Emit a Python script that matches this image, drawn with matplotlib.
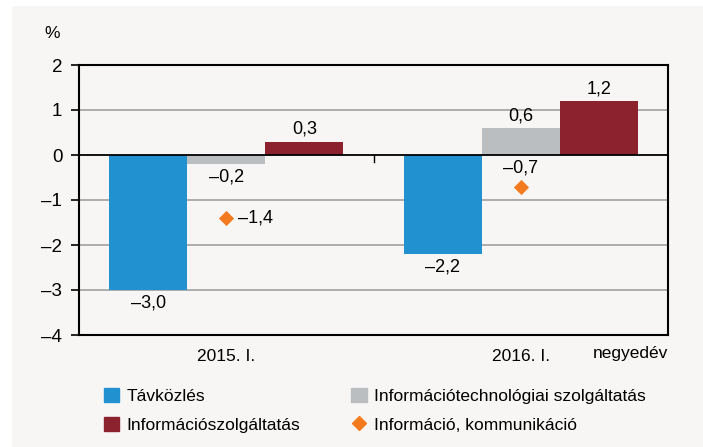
import matplotlib.pyplot as plt
import matplotlib.patches as mpatches
from matplotlib.lines import Line2D
import numpy as np

quarters = ['2015. I.', '2016. I.']
tavkozles = [-3.0, -2.2]
infotech = [-0.2, 0.6]
infoszolg = [0.3, 1.2]
info_komm = [-1.4, -0.7]
series_names = ['Távközlés', 'Információtechnológiai szolgáltatás',
                'Információszolgáltatás', 'Információ, kommunikáció']
yticks = [-4, -3, -2, -1, 0, 1, 2]

blue = '#2291cf'
grey = '#bbbec1'
red = '#8b222e'
orange = '#f47a20'
bg = '#f7f6f4'

plt.rcParams['font.family'] = ['Liberation Sans', 'DejaVu Sans']
plt.rcParams['font.size'] = 12


def fmt(v):
    s = ('%.1f' % abs(v)).replace('.', ',')
    return ('–' + s) if v < 0 else s


fig = plt.figure(figsize=(7.03, 4.47), dpi=100, facecolor='white')
fig.patches.append(mpatches.Rectangle((12 / 703, 0), 1, 1 - 6 / 447,
                                      transform=fig.transFigure,
                                      facecolor=bg, edgecolor='none', zorder=-10))
ax = fig.add_axes([79 / 703, 1 - 335 / 447, 589 / 703, 270 / 447])
ax.set_facecolor(bg)

x = np.arange(len(quarters))
w = 0.265
ax.bar(x - w, tavkozles, w, color=blue, zorder=3)
ax.bar(x, infotech, w, color=grey, zorder=3)
ax.bar(x + w, infoszolg, w, color=red, zorder=3)
ax.scatter(x, info_komm, marker='D', s=60, color=orange, zorder=4, linewidths=0)

for i in range(len(quarters)):
    for off, vals in [(-w, tavkozles), (0, infotech), (w, infoszolg)]:
        v = vals[i]
        if v < 0:
            ax.text(x[i] + off, v - 0.1, fmt(v), ha='center', va='top', fontsize=13)
        else:
            ax.text(x[i] + off, v + 0.08, fmt(v), ha='center', va='bottom', fontsize=13)
ax.text(x[0] + 0.04, info_komm[0], fmt(info_komm[0]), ha='left', va='center', fontsize=13)
ax.text(x[1], info_komm[1] + 0.22, fmt(info_komm[1]), ha='center', va='bottom', fontsize=13)

ax.set_xlim(-0.5, 1.5)
ax.set_ylim(-4, 2)
ax.set_yticks(yticks)
ax.set_yticklabels([('–%d' % -t) if t < 0 else str(t) for t in yticks], fontsize=13.5)
for t in yticks[1:-1]:
    ax.axhline(t, color='black' if t == 0 else '#a0a0a0',
               lw=1.3 if t == 0 else 1.2, zorder=2 if t else 5)
ax.set_xticks(x)
ax.set_xticklabels(quarters, fontsize=12.5)
ax.tick_params(axis='x', length=0, pad=10)
ax.tick_params(axis='y', length=6, width=1.2, pad=6)
ax.plot([0.5, 0.5], [-0.15, 0], color='black', lw=1, zorder=5)
for sp in ax.spines.values():
    sp.set_linewidth(1.5)
ax.text(1.5, -4.25, 'negyedév', ha='right', va='top', fontsize=12.5)
fig.text(52 / 703, 1 - 33 / 447, '%', ha='center', va='center', fontsize=12.5)

handles = [mpatches.Patch(color=blue), mpatches.Patch(color=grey),
           mpatches.Patch(color=red),
           Line2D([], [], marker='D', color=orange, ls='none', markersize=7)]
order = [0, 2, 1, 3]
fig.legend([handles[i] for i in order], [series_names[i] for i in order],
           ncol=2, loc='upper left', bbox_to_anchor=(88 / 703, 1 - 372 / 447),
           frameon=False, handlelength=0.9, handleheight=0.9, handletextpad=0.4,
           columnspacing=2.95, labelspacing=0.75, fontsize=12.5)

fig.savefig('out.png', dpi=100, facecolor='white')
